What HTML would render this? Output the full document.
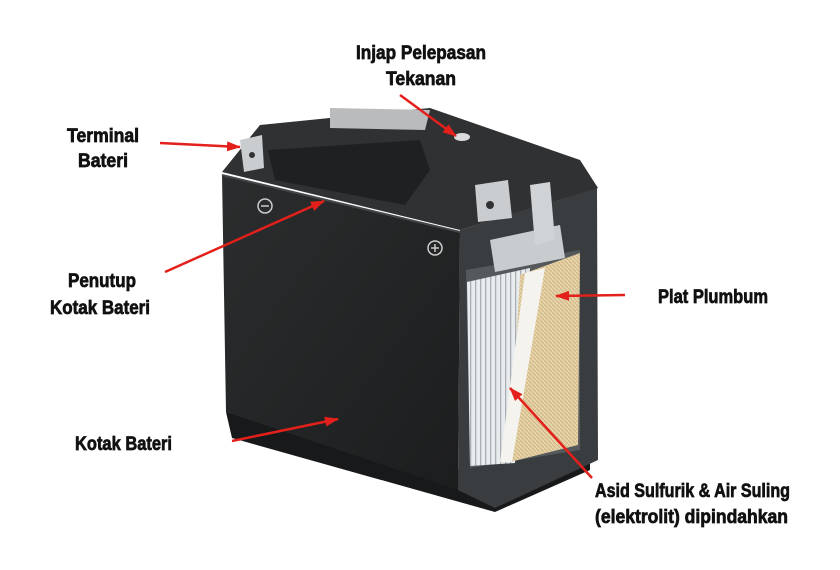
<!DOCTYPE html>
<html><head><style>
html,body{margin:0;padding:0;background:#fff;}
svg{display:block;}
text{font-family:"Liberation Sans Narrow","Liberation Sans",sans-serif;font-weight:bold;font-size:19px;fill:#111;stroke:#111;stroke-width:0.7;}
</style></head><body>
<svg width="840" height="570" viewBox="0 0 840 570" xmlns="http://www.w3.org/2000/svg">
<defs>
<marker id="ah" markerWidth="14" markerHeight="10" refX="13" refY="5" orient="auto" markerUnits="userSpaceOnUse">
<path d="M0,0 L14,5 L0,10 Z" fill="#e3201b"/>
</marker>
<linearGradient id="front" x1="0" y1="0" x2="1" y2="1">
<stop offset="0" stop-color="#2b2d2e"/><stop offset="1" stop-color="#1c1d1e"/>
</linearGradient>
<pattern id="tan" width="4" height="4" patternUnits="userSpaceOnUse">
<rect width="4" height="4" fill="#e6d3a8"/><path d="M0,0 L4,4" stroke="#cdb585" stroke-width="1"/>
</pattern>
<pattern id="plates" width="5" height="10" patternUnits="userSpaceOnUse">
<rect width="5" height="10" fill="#e9ecee"/><rect width="1.3" height="10" fill="#a9afb3"/>
</pattern>
</defs>
<rect width="840" height="570" fill="#fff"/>
<polygon points="226,412 232,438 495,512 590,470 590,440 460,470" fill="#18191a"/>
<polygon points="460,230 597,188 598,460 495,508 458,490" fill="#3a3d3f"/>
<polygon points="466,270 580,250 580,450 470,468" fill="#56595b"/>
<polygon points="467,282 530,268 515,463 470,466" fill="url(#plates)"/>
<polygon points="520,275 580,253 578,445 510,462" fill="url(#tan)"/>
<polygon points="525,273 545,268 512,462 500,462" fill="#f5f3ee"/>
<polygon points="490,240 560,225 565,258 495,272" fill="#c7cccf"/>
<polygon points="222,172 260,125 430,108 580,160 598,188 460,230" fill="#2f3132"/>
<polygon points="268,150 420,140 430,170 405,205 275,180" fill="#1f2021"/>
<polygon points="330,108 430,110 425,130 330,128" fill="#b9bbbc"/>
<ellipse cx="462" cy="137" rx="8" ry="4" fill="#d9dbdc"/>
<polygon points="240,140 262,135 264,168 244,172" fill="#c9cdd0"/>
<circle cx="252" cy="155" r="3" fill="#333"/>
<polygon points="475,185 508,180 512,218 478,222" fill="#c9cdd0"/>
<circle cx="490" cy="205" r="4" fill="#333"/>
<polygon points="530,185 550,182 555,240 535,245" fill="#cfd3d5"/>
<polygon points="222,175 460,232 458,490 226,412" fill="url(#front)"/>
<line x1="222" y1="175" x2="460" y2="232" stroke="#45484a" stroke-width="2"/>
<circle cx="265" cy="206" r="7" fill="none" stroke="#ccc" stroke-width="1.5"/>
<line x1="261" y1="206" x2="269" y2="206" stroke="#ccc" stroke-width="1.5"/>
<circle cx="435" cy="248" r="7" fill="none" stroke="#ccc" stroke-width="1.5"/>
<line x1="431" y1="248" x2="439" y2="248" stroke="#ccc" stroke-width="1.5"/>
<line x1="435" y1="244" x2="435" y2="252" stroke="#ccc" stroke-width="1.5"/>
<g stroke="#e3201b" stroke-width="2.5" marker-end="url(#ah)">
<line x1="160" y1="143" x2="240" y2="147"/>
<line x1="400" y1="95" x2="456" y2="136"/>
<line x1="165" y1="272" x2="324" y2="201"/>
<line x1="232" y1="441" x2="338" y2="419"/>
<line x1="625" y1="295" x2="556" y2="296"/>
<line x1="592" y1="478" x2="510" y2="388"/>
</g>
<text x="356" y="59" textLength="130" lengthAdjust="spacingAndGlyphs">Injap Pelepasan</text>
<text x="386" y="85" textLength="70" lengthAdjust="spacingAndGlyphs">Tekanan</text>
<text x="67" y="142" textLength="72" lengthAdjust="spacingAndGlyphs">Terminal</text>
<text x="78" y="167" textLength="50" lengthAdjust="spacingAndGlyphs">Bateri</text>
<text x="68" y="287" textLength="68" lengthAdjust="spacingAndGlyphs">Penutup</text>
<text x="50" y="314" textLength="100" lengthAdjust="spacingAndGlyphs">Kotak Bateri</text>
<text x="75" y="450" textLength="97" lengthAdjust="spacingAndGlyphs">Kotak Bateri</text>
<text x="658" y="303" textLength="110" lengthAdjust="spacingAndGlyphs">Plat Plumbum</text>
<text x="595" y="497" textLength="195" lengthAdjust="spacingAndGlyphs">Asid Sulfurik &amp; Air Suling</text>
<text x="595" y="523" textLength="193" lengthAdjust="spacingAndGlyphs">(elektrolit) dipindahkan</text>
</svg>
</body></html>
